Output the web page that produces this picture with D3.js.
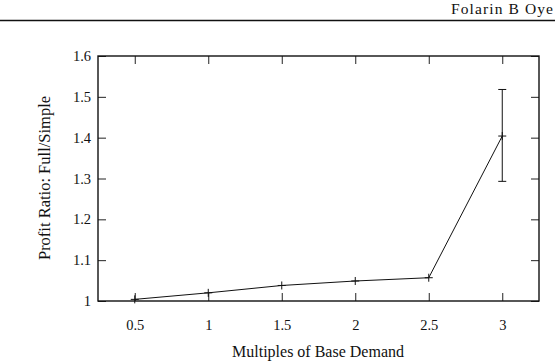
<!DOCTYPE html>
<html><head><meta charset="utf-8">
<script src="https://cdn.jsdelivr.net/npm/d3@7/dist/d3.min.js"></script>
<style>body{margin:0;background:#fff}svg{display:block}text{font-family:"Liberation Serif","DejaVu Serif",serif;fill:#111}</style>
</head><body>
<svg id="c" width="555" height="362"></svg>
<script>
const xValues = [0.5, 1, 1.5, 2, 2.5, 3];
const ratio = [1.004, 1.020, 1.038, 1.049, 1.057, 1.404];
const errLow = [null, null, null, null, null, 1.293];
const errHigh = [null, null, null, null, null, 1.518];
const xTicks = [0.5, 1, 1.5, 2, 2.5, 3];
const yTicks = [1, 1.1, 1.2, 1.3, 1.4, 1.5, 1.6];

const svg = d3.select("#c");
const L = 98, R = 539, T = 56, B = 301;
const x = d3.scaleLinear().domain([0.25, 3.25]).range([L, R]);
const y = d3.scaleLinear().domain([1, 1.6]).range([B, T]);

// header
svg.append("text").attr("x", 451).attr("y", 13.5).attr("font-size", 15.5)
  .attr("textLength", 102).attr("lengthAdjust", "spacing").text("Folarin B Oye");
svg.append("line").attr("x1", 0).attr("x2", 555).attr("y1", 20.5).attr("y2", 20.5).attr("stroke", "#111").attr("stroke-width", 1.3);

const tl = 8;
const fmt = d => String(d);
svg.append("g").attr("transform", `translate(0,${B})`)
  .call(d3.axisBottom(x).tickValues(xTicks).tickSize(-tl).tickPadding(19).tickFormat(fmt))
  .call(g => { g.select(".domain").remove(); g.selectAll("text").attr("font-size", 14.5); });
svg.append("g").attr("transform", `translate(0,${T})`)
  .call(d3.axisTop(x).tickValues(xTicks).tickSize(-tl).tickFormat(""))
  .call(g => g.select(".domain").remove());
svg.append("g").attr("transform", `translate(${L},0)`)
  .call(d3.axisLeft(y).tickValues(yTicks).tickSize(-tl).tickPadding(7).tickFormat(fmt))
  .call(g => { g.select(".domain").remove(); g.selectAll("text").attr("font-size", 14.5); });
svg.append("g").attr("transform", `translate(${R},0)`)
  .call(d3.axisRight(y).tickValues(yTicks).tickSize(-tl).tickFormat(""))
  .call(g => g.select(".domain").remove());
svg.selectAll("g").attr("font-family", null);
svg.selectAll(".tick line").attr("stroke", "#222").attr("stroke-width", 1);

// frame
svg.append("rect").attr("x", L).attr("y", T).attr("width", R - L).attr("height", B - T)
  .attr("fill", "none").attr("stroke", "#111").attr("stroke-width", 1.4);

const data = xValues.map((v, i) => ({x: v, y: ratio[i], lo: errLow[i], hi: errHigh[i]}));

// line
svg.append("path").datum(data)
  .attr("d", d3.line().x(d => x(d.x)).y(d => y(d.y)))
  .attr("fill", "none").attr("stroke", "#111").attr("stroke-width", 1);

// error bars
const eb = data.filter(d => d.lo != null);
const g = svg.append("g").attr("stroke", "#111").attr("stroke-width", 1);
eb.forEach(d => {
  g.append("line").attr("x1", x(d.x)).attr("x2", x(d.x)).attr("y1", y(d.lo)).attr("y2", y(d.hi));
  g.append("line").attr("x1", x(d.x) - 4).attr("x2", x(d.x) + 4).attr("y1", y(d.lo)).attr("y2", y(d.lo));
  g.append("line").attr("x1", x(d.x) - 4).attr("x2", x(d.x) + 4).attr("y1", y(d.hi)).attr("y2", y(d.hi));
});

// plus markers
data.forEach(d => {
  g.append("line").attr("x1", x(d.x) - 4).attr("x2", x(d.x) + 4).attr("y1", y(d.y)).attr("y2", y(d.y));
  g.append("line").attr("x1", x(d.x)).attr("x2", x(d.x)).attr("y1", y(d.y) - 4).attr("y2", y(d.y) + 4);
});

// axis titles
svg.append("text").attr("x", 318).attr("y", 357).attr("text-anchor", "middle").attr("font-size", 16)
  .text("Multiples of Base Demand");
svg.append("text").attr("transform", "translate(50,178) rotate(-90)").attr("text-anchor", "middle").attr("font-size", 16.5)
  .text("Profit Ratio: Full/Simple");
</script>
</body></html>
